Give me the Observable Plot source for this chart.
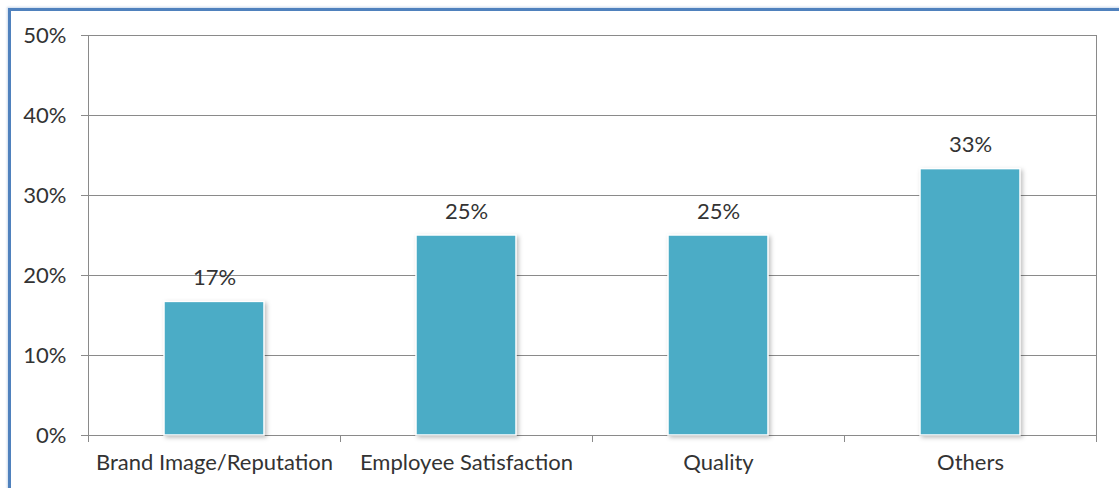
<!DOCTYPE html>
<html>
<head>
<meta charset="utf-8">
<script src="https://cdn.jsdelivr.net/npm/d3@7"></script>
<script src="https://cdn.jsdelivr.net/npm/@observablehq/plot@0.6"></script>
<style>
  html, body { margin: 0; padding: 0; background: #fff; }
  #wrap { position: relative; width: 1119px; height: 488px; overflow: hidden; }
  #border { position: absolute; left: 8px; top: 8px; width: 1200px; height: 600px;
            border-left: 3px solid #4f81bd; border-top: 3px solid #4f81bd;
            box-shadow: -1px -1px 2px rgba(79,129,189,0.3); pointer-events: none; }
  #chart { position: absolute; left: 0; top: 0; }
  g[aria-label="bar"] rect { filter: drop-shadow(2px 2px 2px rgba(0,0,0,0.25)); }
</style>
</head>
<body>
<div id="wrap"><div id="border"></div><div id="chart"></div></div>
<script>
const categories = ["Brand Image/Reputation", "Employee Satisfaction", "Quality", "Others"];
const values = [0.167, 0.25, 0.25, 0.333];
const yTicks = [0, 0.1, 0.2, 0.3, 0.4, 0.5];

const data = categories.map((c, i) => ({category: c, value: values[i]}));

const width = 1119, height = 488;
const marginLeft = 88, marginRight = 23, marginTop = 35, marginBottom = 53;
const bw = (width - marginLeft - marginRight) / categories.length;
const barW = 100;
const inset = (bw - barW) / 2;
const gridColor = "#8a8a8a";
const textColor = "#333333";
const pct = d3.format(".0%");

const chart = Plot.plot({
  width, height, marginLeft, marginRight, marginTop, marginBottom,
  style: {fontFamily: "Lato, 'Open Sans', sans-serif", fontSize: "22px", color: textColor, background: "transparent"},
  x: {domain: categories, padding: 0, label: null},
  y: {domain: [0, 0.5], label: null},
  marks: [
    Plot.gridY(yTicks, {stroke: gridColor, strokeOpacity: 1}),
    Plot.frame({stroke: gridColor}),
    Plot.axisY(yTicks, {tickFormat: pct, tickSize: 7, tickPadding: 15, stroke: gridColor, fill: textColor, fontSize: 22, label: null}),
    Plot.axisX({tickSize: 0, tickPadding: 19, fill: textColor, fontSize: 22, label: null}),
    Plot.ruleX(categories, {x: d => d, y1: 0, y2: 0, dx: -bw / 2, insetBottom: -7, stroke: gridColor}),
    Plot.ruleX([categories[categories.length - 1]], {x: d => d, y1: 0, y2: 0, dx: bw / 2, insetBottom: -7, stroke: gridColor}),
    Plot.barY(data, {x: "category", y: "value", fill: "#4bacc6", stroke: "#ffffff", strokeWidth: 1.5, insetLeft: inset, insetRight: inset}),
    Plot.text(data, {x: "category", y: "value", text: d => pct(d.value), dy: -24, fill: textColor, fontSize: 22})
  ]
});
document.getElementById("chart").appendChild(chart);
</script>
</body>
</html>
